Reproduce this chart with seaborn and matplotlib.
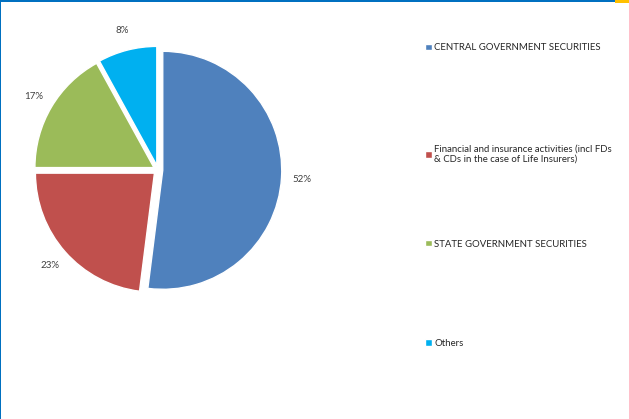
import seaborn as sns
import matplotlib.pyplot as plt
from matplotlib.patches import Rectangle

categories = ["CENTRAL GOVERNMENT SECURITIES",
              "Financial and insurance activities (incl FDs\n& CDs in the case of Life Insurers)",
              "STATE GOVERNMENT SECURITIES",
              "Others"]
shares = [52, 23, 17, 8]
colors = ["#4F81BD", "#C0504D", "#9BBB59", "#00B0F0"]
legend_y = [48, 154, 244, 343]  # pixel rows of legend entries

sns.set_theme(style="white")
plt.rcParams['font.family'] = ['Lato', 'DejaVu Sans']

fig = plt.figure(figsize=(6.29, 4.19), dpi=100)
W, H = 629, 419
r_px = 119
cx, cy = 158, 419 - 170
size = 2.6 * r_px
ax = fig.add_axes([(cx - size / 2) / W, (cy - size / 2) / H, size / W, size / H])

wedges, texts, autotexts = ax.pie(shares, colors=colors, startangle=90, counterclock=False,
                                  explode=[0.04] * 4, autopct='%1.0f%%', pctdistance=1.17,
                                  wedgeprops=dict(edgecolor="white", linewidth=1),
                                  textprops=dict(fontsize=7, color="#404040"))
ax.set_xlim(-1.3, 1.3)
ax.set_ylim(-1.3, 1.3)
ax.set_aspect("equal")
ax.axis("off")

for w, lab, y in zip(wedges, categories, legend_y):
    fig.legend([w], [lab], loc="center left", bbox_to_anchor=(420 / W, 1 - y / H),
               frameon=False, fontsize=6.9, handlelength=0.7, handleheight=0.7,
               handletextpad=0.3, labelcolor="#262626", borderpad=0)

# frame decorations
fig.add_artist(Rectangle((0, 1 - 2 / H), 1, 2 / H, transform=fig.transFigure, color="#0070C0", lw=0))
fig.add_artist(Rectangle((615 / W, 1 - 3 / H), 14 / W, 3 / H, transform=fig.transFigure, color="#FFC000", lw=0))
fig.add_artist(Rectangle((0, 0), 1.2 / W, 1, transform=fig.transFigure, color="#0070C0", lw=0))

plt.savefig("out.png", dpi=100)
